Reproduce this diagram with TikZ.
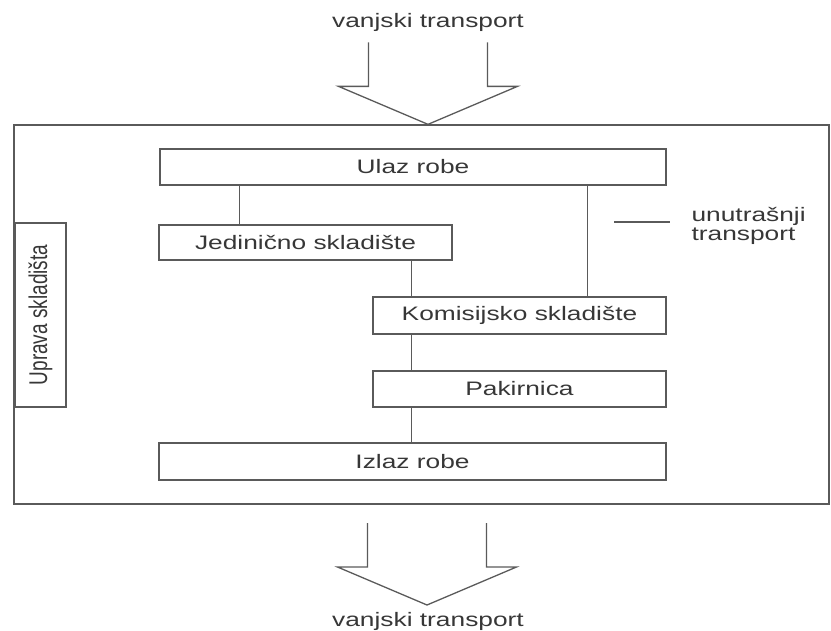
\documentclass[tikz,border=0pt]{standalone}
\usepackage{fontspec}
\setmainfont{Liberation Sans}[FakeStretch=1.35]
\newfontfamily\uspravniFont{Liberation Sans}
\usetikzlibrary{positioning, calc}
\definecolor{linija}{RGB}{90,90,90}
\definecolor{tekst}{RGB}{55,55,55}

\begin{document}
\begin{tikzpicture}[
    x=1pt, y=-1pt,
    font=\fontsize{19.5}{19}\selectfont,
    % Stil blokova
    blok/.style={
        rectangle,
        draw=linija,
        line width=1.3pt,
        inner sep=0pt,
        text=tekst,
        minimum height=36pt,
        align=center
    },
    okvir/.style={
        rectangle,
        draw=linija,
        line width=1.3pt,
        inner sep=0pt
    },
    veza/.style={draw=linija, line width=1.3pt},
    strelica/.style={draw=linija, line width=1.3pt, line join=miter},
    natpis/.style={text=tekst, align=left}
]
    \useasboundingbox (0,0) rectangle (831,630);

    % --- OKVIR SKLADIŠTA ---
    \node[okvir, minimum width=815pt, minimum height=379pt] (skladiste) at (421.5,314.5) {};

    % --- BLOKOVI ---
    \node[blok, minimum width=506pt] (ulaz) at (413,167) {Ulaz robe};
    \node[blok, minimum width=293pt, minimum height=35pt] (jedinicno) at (305.5,242.5) {Jedinično skladište};
    \node[blok, minimum width=293pt, minimum height=37pt] (komisijsko) at (519.5,315.5) {Komisijsko skladište};
    \node[blok, minimum width=293pt] (pakirnica) at (519.5,389) {Pakirnica};
    \node[blok, minimum width=507pt, minimum height=37pt] (izlaz) at (412.5,461.5) {Izlaz robe};

    % Uprava (okomiti tekst)
    \node[blok, minimum width=51pt, minimum height=184pt] (uprava) at (40.5,315)
        {\rotatebox{90}{\uspravniFont\fontsize{19}{19}\selectfont\scalebox{1}[1.35]{Uprava skladišta}}};

    % --- VEZE (unutrašnji transport) ---
    \draw[veza] ([xshift=81pt]jedinicno.north west) -- ([xshift=81pt]jedinicno.north west |- ulaz.south);
    \draw[veza] ([xshift=39pt]komisijsko.north west) -- ([xshift=39pt]komisijsko.north west |- jedinicno.south);
    \draw[veza] ([xshift=-79pt]komisijsko.north east) -- ([xshift=-79pt]komisijsko.north east |- ulaz.south);
    \draw[veza] ([xshift=39pt]pakirnica.north west) -- ([xshift=39pt]pakirnica.north west |- komisijsko.south);
    \draw[veza] ([xshift=39pt]pakirnica.south west) -- ([xshift=39pt]pakirnica.south west |- izlaz.north);

    % Legenda
    \coordinate (legPoc) at (614,222);
    \coordinate[right=56pt of legPoc] (legKraj);
    \draw[veza] (legPoc) -- (legKraj);
    \node[natpis, right=18pt of legKraj, yshift=-4pt] (legenda) {unutrašnji\\transport};

    % --- VANJSKI TRANSPORT ---
    % Ulaz (gore)
    \node[natpis, anchor=base] (vanjskiGore) at (428,27) {vanjski transport};
    \coordinate (vrhGore) at (vanjskiGore.south |- skladiste.north);
    \draw[strelica] (vrhGore) ++(-59.5,-82) -- ++(0,44) -- ++(-30,0) -- (vrhGore)
        -- ++(89.5,-38) -- ++(-30,0) -- ++(0,-44);

    % Izlaz (dolje)
    \node[natpis, anchor=base] (vanjskiDolje) at (428,626) {vanjski transport};
    \coordinate (vrhDolje) at (427,605);
    \draw[strelica] (vrhDolje) ++(-59.5,-82) -- ++(0,44) -- ++(-30,0) -- (vrhDolje)
        -- ++(89.5,-38) -- ++(-30,0) -- ++(0,-44);

\end{tikzpicture}
\end{document}
